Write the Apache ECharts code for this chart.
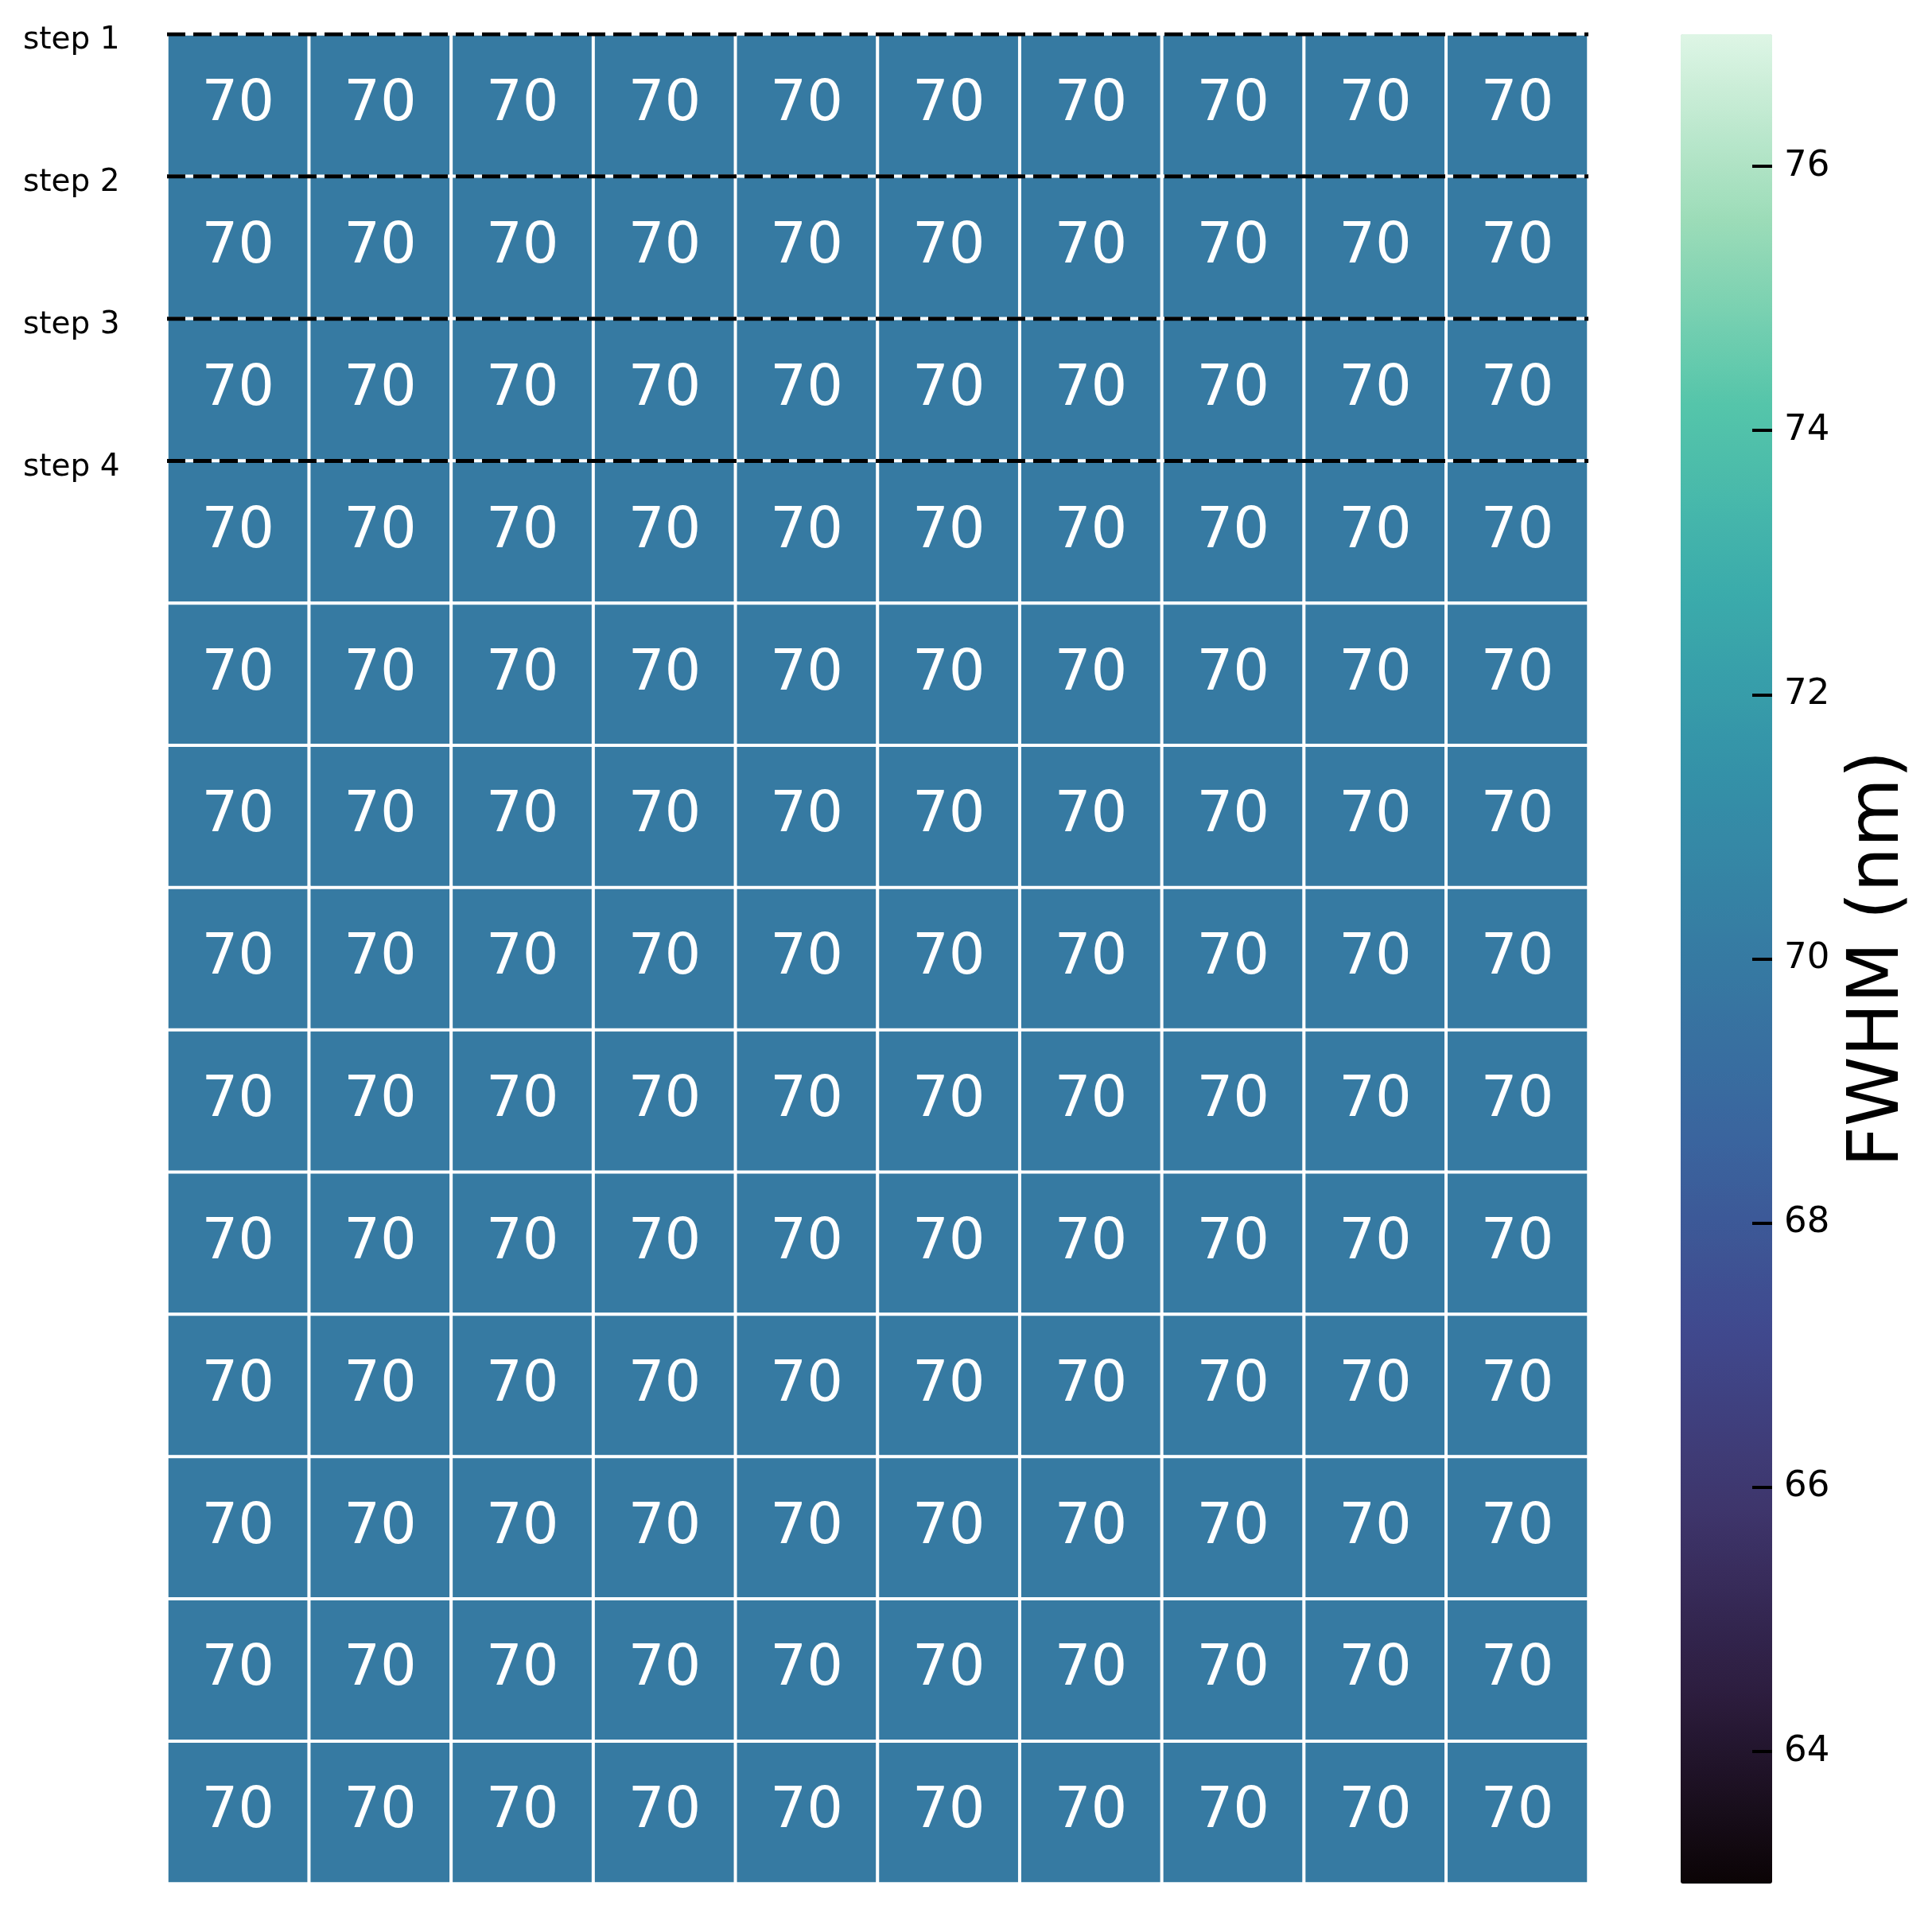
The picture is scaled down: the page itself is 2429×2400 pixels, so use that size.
<!DOCTYPE html>
<html>
<head>
<meta charset="utf-8">
<script src="https://cdn.jsdelivr.net/npm/echarts@6/dist/echarts.min.js"></script>
<style>
  html, body { margin: 0; padding: 0; background: #fff; }
  #chart { width: 2429px; height: 2400px; }
</style>
</head>
<body>
<div id="chart"></div>
<script>
// heatmap values, row by row (top to bottom)
const fwhm = [
  [70, 70, 70, 70, 70, 70, 70, 70, 70, 70],
  [70, 70, 70, 70, 70, 70, 70, 70, 70, 70],
  [70, 70, 70, 70, 70, 70, 70, 70, 70, 70],
  [70, 70, 70, 70, 70, 70, 70, 70, 70, 70],
  [70, 70, 70, 70, 70, 70, 70, 70, 70, 70],
  [70, 70, 70, 70, 70, 70, 70, 70, 70, 70],
  [70, 70, 70, 70, 70, 70, 70, 70, 70, 70],
  [70, 70, 70, 70, 70, 70, 70, 70, 70, 70],
  [70, 70, 70, 70, 70, 70, 70, 70, 70, 70],
  [70, 70, 70, 70, 70, 70, 70, 70, 70, 70],
  [70, 70, 70, 70, 70, 70, 70, 70, 70, 70],
  [70, 70, 70, 70, 70, 70, 70, 70, 70, 70],
  [70, 70, 70, 70, 70, 70, 70, 70, 70, 70]
]
const colCats = ['0', '1', '2', '3', '4', '5', '6', '7', '8', '9']
const rowCats = ['0', '1', '2', '3', '4', '5', '6', '7', '8', '9', '10', '11', '12']

// dashed step markers sit on the row boundaries
const stepNames = ['step 1', 'step 2', 'step 3', 'step 4']
const stepRows = [0, 1, 2, 3]

// colorbar
const cbarMin = 63
const cbarMax = 77
const cbarTicks = [64, 66, 68, 70, 72, 74, 76]
// mako colormap, evenly spaced stops
const mako = ['#0b0405', '#2c1c3d', '#3e356b', '#40498e', '#3a649e', '#367aa2',
  '#3491a8', '#3bacab', '#55c5aa', '#9cdcb8', '#def5e5']

const FONT = 'DejaVu Sans'

const myChart = echarts.init(document.getElementById('chart'))

const cells = []
fwhm.forEach((row, r) => {
  row.forEach((v, c) => {
    cells.push([c, r, v])
  })
})

const stepSeries = stepRows.map((r, i) => ({
  name: stepNames[i],
  type: 'line',
  xAxisIndex: 1,
  yAxisIndex: 1,
  data: [[0, r], [colCats.length, r]],
  symbol: 'none',
  silent: true,
  z: 10,
  lineStyle: { color: '#000', width: 5, type: [23, 10] }
}))

myChart.setOption({
  backgroundColor: '#fff',
  animation: false,
  grid: [
    { left: 210, top: 43, width: 1787, height: 2325 },
    { left: 210, top: 43, width: 1787, height: 2325 },
    { left: 2113, top: 43, width: 115, height: 2325 }
  ],
  xAxis: [
    { type: 'category', gridIndex: 0, data: colCats, show: false },
    { type: 'value', gridIndex: 1, min: 0, max: colCats.length, show: false },
    { type: 'value', gridIndex: 2, min: 0, max: 1, show: false }
  ],
  yAxis: [
    { type: 'category', gridIndex: 0, data: rowCats, inverse: true, show: false },
    {
      type: 'value', gridIndex: 1, min: 0, max: rowCats.length, inverse: true,
      axisLine: { show: false },
      axisTick: { show: false },
      splitLine: { show: false },
      axisLabel: {
        customValues: stepRows,
        formatter: (v) => stepNames[stepRows.indexOf(v)],
        align: 'left',
        verticalAlign: 'top',
        lineHeight: 16,
        margin: 181,
        color: '#000',
        fontSize: 39,
        fontFamily: FONT
      }
    },
    {
      // colorbar labels and title
      type: 'value', gridIndex: 2, position: 'right', min: cbarMin, max: cbarMax, z: 10,
      axisLine: { show: false },
      splitLine: { show: false },
      axisTick: { show: false },
      axisLabel: {
        customValues: cbarTicks,
        margin: 15,
        color: '#000',
        fontSize: 45,
        fontFamily: FONT
      },
      name: 'FWHM (nm)',
      nameLocation: 'middle',
      nameRotate: 90,
      nameGap: 90,
      nameTextStyle: { color: '#000', fontSize: 89, fontFamily: FONT }
    },
    {
      // colorbar ticks, on the bar's right edge pointing into it
      type: 'value', gridIndex: 2, position: 'left', offset: -115, min: cbarMin, max: cbarMax, z: 10,
      axisLine: { show: false },
      splitLine: { show: false },
      axisLabel: { show: false },
      axisTick: {
        customValues: cbarTicks,
        length: 25,
        lineStyle: { color: '#000', width: 4 }
      }
    }
  ],
  visualMap: {
    type: 'continuous',
    min: cbarMin,
    max: cbarMax,
    seriesIndex: 0,
    calculable: false,
    orient: 'vertical',
    left: 2113,
    top: 43,
    itemWidth: 115,
    itemHeight: 2325,
    padding: 0,
    z: 1,
    inRange: { color: mako }
  },
  series: [
    {
      type: 'heatmap',
      xAxisIndex: 0,
      yAxisIndex: 0,
      data: cells,
      label: {
        show: true,
        color: '#fff',
        fontSize: 72,
        fontFamily: FONT
      },
      itemStyle: { borderColor: '#fff', borderWidth: 4 },
      emphasis: { disabled: true }
    },
    ...stepSeries
  ]
})
</script>
</body>
</html>
